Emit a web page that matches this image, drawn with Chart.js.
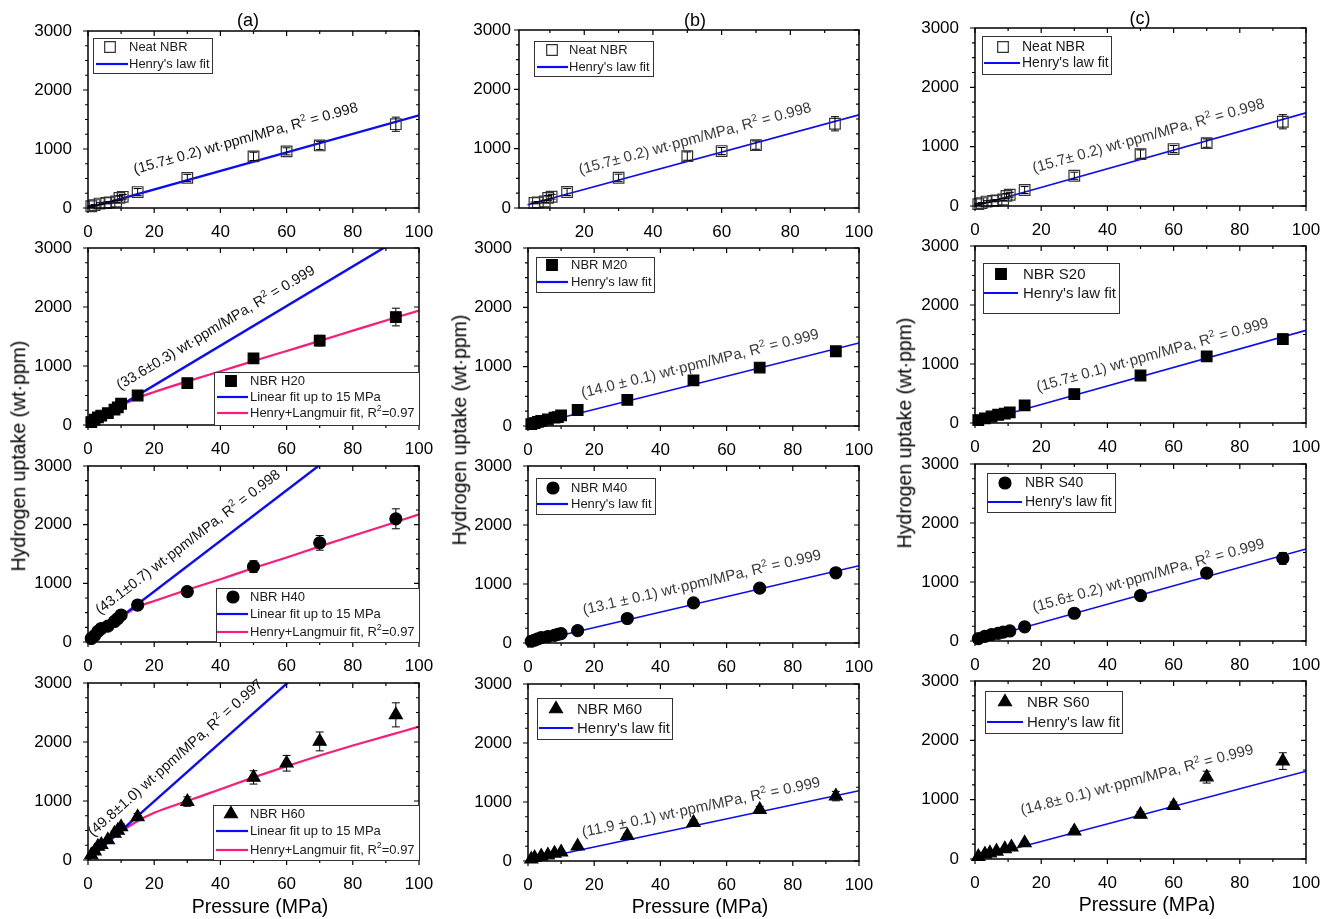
<!DOCTYPE html>
<html>
<head>
<meta charset="utf-8">
<script src="https://cdn.jsdelivr.net/npm/chart.js@4.4.1/dist/chart.umd.min.js"></script>
<style>
  html, body { margin: 0; padding: 0; background: #fff; }
  #fig { position: relative; width: 1332px; height: 919px; overflow: hidden;
         font-family: 'Liberation Sans', Arial, Helvetica, sans-serif; color: #000; }
  #fig canvas { position: absolute; }
  .lbl { position: absolute; white-space: nowrap; line-height: 1; transform: translate(-50%, -50%); }
  .ylab { transform: translate(-50%, -50%) rotate(-90deg); }
</style>
</head>
<body>
<div id="fig"></div>
<script>
// ---------------- measured hydrogen uptake (wt·ppm) vs pressure (MPa) ----------------
const neatP   = [1, 2, 3.5, 5.5, 6.5, 8.5, 9.5, 10.5, 15, 30, 50, 60, 70, 93];
const neatH   = [30, 50, 75, 85, 95, 110, 170, 190, 270, 510, 875, 960, 1060, 1420];
const neatErr = [10, 10, 15, 15, 15, 20, 40, 40, 60, 60, 70, 60, 70, 120];

const h20P   = [1, 2, 3, 4, 6, 8, 9, 10, 15, 30, 50, 70, 93];
const h20H   = [50, 90, 130, 160, 200, 260, 300, 360, 500, 710, 1130, 1430, 1830];
const h20Err = [15, 15, 20, 20, 25, 30, 30, 35, 45, 60, 70, 90, 150];

const h40P   = [1, 2, 3, 4, 6, 8, 9, 10, 15, 30, 50, 70, 93];
const h40H   = [60, 110, 180, 230, 270, 350, 400, 460, 630, 860, 1285, 1690, 2100];
const h40Err = [15, 20, 20, 25, 30, 35, 40, 45, 55, 60, 100, 125, 170];

const h60P   = [1, 2, 3, 4, 6, 8, 9, 10, 15, 30, 50, 60, 70, 93];
const h60H   = [85, 150, 230, 260, 340, 450, 500, 560, 730, 990, 1400, 1640, 2010, 2460];
const h60Err = [15, 20, 25, 30, 35, 40, 45, 50, 60, 80, 113, 133, 160, 204];

const m20P   = [1, 2, 3, 4, 6, 8, 9, 10, 15, 30, 50, 70, 93];
const m20H   = [30, 50, 70, 85, 110, 140, 150, 180, 270, 440, 770, 985, 1260];
const m20Err = [10, 10, 10, 15, 15, 15, 20, 20, 30, 40, 50, 60, 80];

const m40P   = [1, 2, 3, 4, 6, 8, 9, 10, 15, 30, 50, 70, 93];
const m40H   = [30, 50, 70, 90, 110, 130, 145, 160, 210, 415, 680, 930, 1190];
const m40Err = [10, 10, 10, 15, 15, 15, 20, 20, 25, 35, 45, 55, 70];

const m60P   = [1, 2, 4, 6, 8, 10, 15, 30, 50, 70, 93];
const m60H   = [30, 55, 80, 100, 130, 150, 250, 430, 650, 870, 1100];
const m60Err = [10, 10, 10, 15, 15, 15, 25, 35, 45, 55, 80];

const s20P   = [1, 3, 5, 7, 9, 10.5, 15, 30, 50, 70, 93];
const s20H   = [50, 80, 110, 140, 160, 180, 300, 490, 805, 1130, 1420];
const s20Err = [10, 10, 15, 15, 15, 20, 30, 40, 50, 60, 90];

const s40P   = [1, 3, 5, 7, 8.5, 10.5, 15, 30, 50, 70, 93];
const s40H   = [40, 80, 110, 130, 150, 170, 240, 470, 770, 1150, 1400];
const s40Err = [10, 10, 15, 15, 15, 20, 30, 40, 50, 60, 100];

const s60P   = [1, 3, 4.5, 6.5, 9, 11, 15, 30, 50, 60, 70, 93];
const s60H   = [40, 80, 100, 130, 170, 200, 270, 470, 750, 900, 1380, 1650];
const s60Err = [10, 10, 15, 15, 20, 20, 30, 40, 50, 60, 100, 140];

// ---------------- Henry+Langmuir fitted curves ----------------
const hlP   = [0, 2, 5, 10, 15, 20, 30, 40, 50, 60, 70, 80, 90, 100];
const hlH20 = [0, 75, 175, 330, 460, 560, 740, 910, 1085, 1255, 1425, 1600, 1770, 1940];
const hlH40 = [0, 95, 225, 420, 600, 700, 890, 1070, 1260, 1440, 1630, 1810, 1990, 2175];
const hlH60 = [0, 110, 270, 480, 660, 800, 1000, 1200, 1400, 1590, 1770, 1940, 2100, 2260];
const r2HL  = '0.97';

// ---------------- Henry's law slopes (wt·ppm/MPa), errors, R² ----------------
const kNeat = 15.7, eNeat = 0.2, r2Neat = '0.998';
const kH20 = 33.6, eH20 = 0.3, r2H20 = '0.999';
const kH40 = 43.1, eH40 = 0.7, r2H40 = '0.998';
const kH60 = 49.8, eH60 = 1.0, r2H60 = '0.997';
const kM20 = 14.0, eM20 = 0.1, r2M20 = '0.999';
const kM40 = 13.1, eM40 = 0.1, r2M40 = '0.999';
const kM60 = 11.9, eM60 = 0.1, r2M60 = '0.999';
const kS20 = 15.7, eS20 = 0.1, r2S20 = '0.999';
const kS40 = 15.6, eS40 = 0.2, r2S40 = '0.999';
const kS60 = 14.8, eS60 = 0.1, r2S60 = '0.999';

// ---------------- axis ticks ----------------
const xTickValues = [0, 20, 40, 60, 80, 100];
const xMinorValues = [10, 30, 50, 70, 90];
const yTickValues = [0, 1000, 2000, 3000];
const yMinorValues = [250, 500, 750, 1250, 1500, 1750, 2250, 2500, 2750];

const FONT = "'Liberation Sans', Arial, Helvetica, sans-serif";
const BLUE = '#0a0aff';
const PINK = '#ff1a78';

// slope label formats
const noteA = (k, e, r2) => `(${k.toFixed(1)}\u00b1 ${e.toFixed(1)}) wt\u00b7ppm/MPa, R^2 = ${r2}`;
const noteB = (k, e, r2) => `(${k.toFixed(1)}\u00b1${e.toFixed(1)}) wt\u00b7ppm/MPa, R^2 = ${r2}`;
const noteC = (k, e, r2) => `(${k.toFixed(1)} \u00b1 ${e.toFixed(1)}) wt\u00b7ppm/MPa, R^2 = ${r2}`;

// marker styles
const openSquare = { style: 'rect', r: 7.5, fill: 'rgba(0,0,0,0)', stroke: '#333' };
const square = { style: 'rect', r: 7.5, fill: '#000', stroke: '#000' };
const circle = { style: 'circle', r: 6, fill: '#000', stroke: '#000' };
const triangle = { style: 'triangle', r: 7.5, fill: '#000', stroke: '#000' };

function henry(label, k, x0, width) {
  return { label, P: [x0, 100], H: [k * x0, k * 100], color: BLUE, width, smooth: false };
}
function langmuir(H) {
  return { label: `Henry+Langmuir fit, R^2=${r2HL}`, P: hlP, H, color: PINK, width: 2.2, smooth: true };
}
const HL = "Henry's law fit";
const LIN = 'Linear fit up to 15 MPa';

const panelDefs = [
  // column (a)
  { rect: [88, 31, 331, 177], xMin: 0,
    series: { label: 'Neat NBR', P: neatP, H: neatH, E: neatErr, ...openSquare },
    fits: [henry(HL, kNeat, 0, 2.4)],
    note: { x: 14.2, y: 576, k: kNeat, text: noteA(kNeat, eNeat, r2Neat), size: 14.5, color: '#111' },
    legend: { box: [5, 7, 119, 35], rows: [9, 26], sym: 17, line: [3, 35], text: 36, size: 13 } },
  { rect: [88, 248, 331, 177], xMin: 0,
    series: { label: 'NBR H20', P: h20P, H: h20H, E: h20Err, ...square },
    fits: [henry(LIN, kH20, 0, 2.4), langmuir(hlH20)],
    note: { x: 9.7, y: 593, k: kH20, text: noteB(kH20, eH20, r2H20), size: 14.5, color: '#111' },
    legend: { box: [126, 124, 205, 53], rows: [9, 25, 41], sym: 17, line: [3, 34], text: 36, size: 13 } },
  { rect: [88, 466, 331, 176], xMin: 0,
    series: { label: 'NBR H40', P: h40P, H: h40H, E: h40Err, ...circle },
    fits: [henry(LIN, kH40, 0, 2.4), langmuir(hlH40)],
    note: { x: 3.6, y: 463, k: kH40, text: noteB(kH40, eH40, r2H40), size: 14.5, color: '#111' },
    legend: { box: [128, 122, 203, 54], rows: [9, 26, 44], sym: 17, line: [1, 32], text: 34, size: 13 } },
  { rect: [88, 683, 331, 177], xMin: 0,
    series: { label: 'NBR H60', P: h60P, H: h60H, E: h60Err, ...triangle },
    fits: [henry(LIN, kH60, 0, 2.4), langmuir(hlH60)],
    note: { x: 1.5, y: 390, k: kH60, text: noteB(kH60, eH60, r2H60), size: 14.5, color: '#111' },
    legend: { box: [125, 122, 206, 55], rows: [9, 26, 45], sym: 18, line: [3, 35], text: 37, size: 13 } },
  // column (b)
  { rect: [519, 30, 340, 178], xMin: 1, pFrom: 5, yPad: 8,
    series: { label: 'Neat NBR', P: neatP, H: neatH, E: neatErr, ...openSquare },
    fits: [henry(HL, kNeat, 3.5, 1.6)],
    note: { x: 18.8, y: 564, k: kNeat, text: noteA(kNeat, eNeat, r2Neat), size: 15, color: '#3a3a3a' },
    legend: { box: [15, 11, 119, 35], rows: [9, 26], sym: 18, line: [3, 34], text: 35, size: 13 } },
  { rect: [528, 248, 331, 178], xMin: 0,
    series: { label: 'NBR M20', P: m20P, H: m20H, E: m20Err, ...square },
    fits: [henry(HL, kM20, 0, 1.6)],
    note: { x: 16.5, y: 475, k: kM20, text: noteC(kM20, eM20, r2M20), size: 15, color: '#3a3a3a' },
    legend: { box: [8, 9, 118, 35], rows: [8, 25], sym: 16, line: [1, 32], text: 35, size: 13 } },
  { rect: [528, 466, 331, 177], xMin: 0,
    series: { label: 'NBR M40', P: m40P, H: m40H, E: m40Err, ...circle },
    fits: [henry(HL, kM40, 0, 1.6)],
    note: { x: 16.9, y: 480, k: kM40, text: noteC(kM40, eM40, r2M40), size: 15, color: '#3a3a3a' },
    legend: { box: [8, 12, 119, 36], rows: [10, 26], sym: 17, line: [1, 32], text: 35, size: 13 } },
  { rect: [528, 684, 331, 177], xMin: 0,
    series: { label: 'NBR M60', P: m60P, H: m60H, E: m60Err, ...triangle },
    fits: [henry(HL, kM60, 0, 1.6)],
    note: { x: 16.6, y: 407, k: kM60, text: noteC(kM60, eM60, r2M60), size: 15, color: '#3a3a3a' },
    legend: { box: [9, 14, 135, 41], rows: [11, 30], sym: 19, line: [2, 36], text: 40, size: 15 } },
  // column (c)
  { rect: [975, 28, 331, 178], xMin: 0,
    series: { label: 'Neat NBR', P: neatP, H: neatH, E: neatErr, ...openSquare },
    fits: [henry(HL, kNeat, 0, 1.6)],
    note: { x: 17.8, y: 559, k: kNeat, text: noteA(kNeat, eNeat, r2Neat), size: 15, color: '#3a3a3a' },
    legend: { box: [7, 8, 129, 38], rows: [11, 27], sym: 21, line: [2, 38], text: 40, size: 14 } },
  { rect: [975, 246, 331, 177], xMin: 0,
    series: { label: 'NBR S20', P: s20P, H: s20H, E: s20Err, ...square },
    fits: [henry(HL, kS20, 0, 1.6)],
    note: { x: 19, y: 530, k: kS20, text: noteA(kS20, eS20, r2S20), size: 15, color: '#3a3a3a' },
    legend: { box: [8, 17, 136, 50], rows: [11, 30], sym: 18, line: [1, 35], text: 40, size: 15 } },
  { rect: [975, 464, 331, 177], xMin: 0,
    series: { label: 'NBR S40', P: s40P, H: s40H, E: s40Err, ...circle },
    fits: [henry(HL, kS40, 0, 1.6)],
    note: { x: 17.8, y: 491, k: kS40, text: noteA(kS40, eS40, r2S40), size: 15, color: '#3a3a3a' },
    legend: { box: [12, 9, 128, 39], rows: [10, 29], sym: 18, line: [1, 35], text: 38, size: 14 } },
  { rect: [975, 681, 331, 178], xMin: 0,
    series: { label: 'NBR S60', P: s60P, H: s60H, E: s60Err, ...triangle },
    fits: [henry(HL, kS60, 0, 1.6)],
    note: { x: 14.2, y: 740, k: kS60, text: noteA(kS60, eS60, r2S60), size: 15, color: '#3a3a3a' },
    legend: { box: [10, 10, 137, 42], rows: [11, 31], sym: 20, line: [2, 38], text: 42, size: 15 } },
];

// text with '^x' meaning a superscript character x
function drawRich(ctx, str, x, y, size) {
  const parts = [];
  for (let i = 0; i < str.length; i++) {
    if (str[i] === '^' && i + 1 < str.length) { parts.push({ t: str[i + 1], sup: true }); i++; }
    else if (parts.length && !parts[parts.length - 1].sup) parts[parts.length - 1].t += str[i];
    else parts.push({ t: str[i], sup: false });
  }
  let cx = x;
  parts.forEach(p => {
    ctx.font = (p.sup ? size * 0.68 : size) + 'px ' + FONT;
    ctx.fillText(p.t, cx, p.sup ? y - size * 0.4 : y);
    cx += ctx.measureText(p.t).width;
  });
}

const panelDecor = {
  id: 'panelDecor',
  afterDatasetsDraw(chart) {
    const def = chart.config.options.plugins.panelDecor.def;
    const ctx = chart.ctx;
    const xs = chart.scales.x, ys = chart.scales.y;
    const ca = chart.chartArea;
    ctx.save();

    // error bars
    chart.data.datasets.forEach(ds => {
      if (!ds.errors) return;
      ctx.strokeStyle = '#000';
      ctx.lineWidth = 1;
      ds.data.forEach((pt, i) => {
        const e = ds.errors[i];
        const px = xs.getPixelForValue(pt.x);
        const y1 = ys.getPixelForValue(pt.y - e), y2 = ys.getPixelForValue(pt.y + e);
        ctx.beginPath();
        ctx.moveTo(px, y1); ctx.lineTo(px, y2);
        ctx.moveTo(px - 4, y1); ctx.lineTo(px + 4, y1);
        ctx.moveTo(px - 4, y2); ctx.lineTo(px + 4, y2);
        ctx.stroke();
      });
    });

    // slope label along the Henry's law line
    const n = def.note;
    const ang = Math.atan2(ys.getPixelForValue(n.k * 100) - ys.getPixelForValue(0),
                           xs.getPixelForValue(100) - xs.getPixelForValue(0));
    ctx.save();
    ctx.translate(xs.getPixelForValue(n.x), ys.getPixelForValue(n.y));
    ctx.rotate(ang);
    ctx.fillStyle = n.color;
    ctx.textBaseline = 'alphabetic';
    ctx.textAlign = 'left';
    drawRich(ctx, n.text, 0, 0, n.size);
    ctx.restore();

    // frame
    ctx.strokeStyle = '#000';
    ctx.lineWidth = 1.5;
    ctx.strokeRect(ca.left, ca.top, ca.right - ca.left, ca.bottom - ca.top);

    // tick marks: outward on left/bottom, inward on top/right
    ctx.lineWidth = 1.2;
    ctx.beginPath();
    const xt = (vals, len) => vals.forEach(v => {
      if (v < xs.min || v > xs.max) return;
      const px = xs.getPixelForValue(v);
      ctx.moveTo(px, ca.bottom); ctx.lineTo(px, ca.bottom + len);
      ctx.moveTo(px, ca.top); ctx.lineTo(px, ca.top + len);
    });
    const yt = (vals, len) => vals.forEach(v => {
      const py = ys.getPixelForValue(v);
      ctx.moveTo(ca.left, py); ctx.lineTo(ca.left - len, py);
      ctx.moveTo(ca.right, py); ctx.lineTo(ca.right - len, py);
    });
    xt(xTickValues, 5); xt(xMinorValues, 3);
    yt(yTickValues, 5); yt(yMinorValues, 3);
    ctx.stroke();

    // legend
    const lg = def.legend;
    const bx = ca.left + lg.box[0], by = ca.top + lg.box[1];
    ctx.fillStyle = '#fff';
    ctx.fillRect(bx, by, lg.box[2], lg.box[3]);
    ctx.strokeStyle = '#333';
    ctx.lineWidth = 1;
    ctx.strokeRect(bx + 0.5, by + 0.5, lg.box[2], lg.box[3]);
    const sets = chart.data.datasets;
    const items = [sets[sets.length - 1], ...sets.slice(0, sets.length - 1)];
    items.forEach((ds, i) => {
      const y = by + lg.rows[i];
      if (ds.errors) {
        ctx.fillStyle = ds.backgroundColor;
        ctx.strokeStyle = ds.borderColor;
        ctx.lineWidth = ds.borderWidth;
        Chart.helpers.drawPoint(ctx, { pointStyle: ds.pointStyle, radius: ds.pointRadius, borderWidth: ds.borderWidth, rotation: 0 }, bx + lg.sym, y);
      } else {
        ctx.strokeStyle = ds.borderColor;
        ctx.lineWidth = 2.2;
        ctx.beginPath();
        ctx.moveTo(bx + lg.line[0], y); ctx.lineTo(bx + lg.line[1], y);
        ctx.stroke();
      }
      ctx.fillStyle = '#1a1a1a';
      ctx.textBaseline = 'middle';
      ctx.textAlign = 'left';
      drawRich(ctx, ds.label, bx + lg.text, y + 0.5, lg.size);
    });
    ctx.restore();
  }
};

const fig = document.getElementById('fig');
const PAD_L = 75, PAD_T = 14, PAD_R = 22, PAD_B = 40;

panelDefs.forEach(def => {
  const [L, T, W, H] = def.rect;
  const cv = document.createElement('canvas');
  cv.width = W + PAD_L + PAD_R;
  cv.height = H + PAD_T + PAD_B;
  cv.style.left = (L - PAD_L) + 'px';
  cv.style.top = (T - PAD_T) + 'px';
  fig.appendChild(cv);

  const s = def.series;
  const keep = s.P.map((p, i) => i).filter(i => def.pFrom === undefined || s.P[i] >= def.pFrom);
  const datasets = def.fits.map(f => ({
    type: 'line',
    label: f.label,
    data: f.P.map((p, i) => ({ x: p, y: f.H[i] })),
    borderColor: f.color,
    borderWidth: f.width,
    pointRadius: 0,
    showLine: true,
    fill: false,
    tension: f.smooth ? 0.4 : 0,
    cubicInterpolationMode: f.smooth ? 'monotone' : 'default',
    order: 2
  }));
  datasets.push({
    type: 'scatter',
    label: s.label,
    data: keep.map(i => ({ x: s.P[i], y: s.H[i] })),
    errors: keep.map(i => s.E[i]),
    pointStyle: s.style,
    pointRadius: s.r,
    pointHoverRadius: s.r,
    backgroundColor: s.fill,
    borderColor: s.stroke,
    borderWidth: 1.2,
    clip: false,
    order: 1
  });

  new Chart(cv, {
    type: 'scatter',
    data: { datasets },
    options: {
      responsive: false,
      animation: false,
      devicePixelRatio: 1,
      layout: { padding: { left: 0, top: PAD_T, right: PAD_R, bottom: 0 } },
      plugins: { legend: { display: false }, tooltip: { enabled: false }, panelDecor: { def } },
      scales: {
        x: {
          type: 'linear', min: def.xMin, max: 100,
          grid: { display: false, drawTicks: false },
          border: { display: false },
          ticks: { font: { size: 17, family: FONT }, color: '#000', padding: 14, autoSkip: false, maxRotation: 0,
                   callback: v => String(v) },
          afterBuildTicks: sc => { sc.ticks = xTickValues.filter(v => v >= sc.min && v <= sc.max).map(v => ({ value: v })); },
          afterFit: sc => { sc.height = PAD_B; sc.paddingLeft = 0; sc.paddingRight = 0; }
        },
        y: {
          type: 'linear', min: 0, max: 3000,
          grid: { display: false, drawTicks: false },
          border: { display: false },
          ticks: { font: { size: 17, family: FONT }, color: '#000', padding: def.yPad ?? 16, autoSkip: false,
                   callback: v => String(v) },
          afterBuildTicks: sc => { sc.ticks = yTickValues.map(v => ({ value: v })); },
          afterFit: sc => { sc.width = PAD_L; sc.paddingTop = 0; sc.paddingBottom = 0; }
        }
      }
    },
    plugins: [panelDecor]
  });
});

// shared titles
function addLabel(text, x, y, size, cls) {
  const d = document.createElement('div');
  d.className = 'lbl' + (cls ? ' ' + cls : '');
  d.textContent = text;
  d.style.left = x + 'px';
  d.style.top = y + 'px';
  d.style.fontSize = size + 'px';
  fig.appendChild(d);
}
addLabel('(a)', 248, 20, 18);
addLabel('(b)', 695, 20, 18);
addLabel('(c)', 1140, 18, 18);
addLabel('Hydrogen uptake (wt\u00b7ppm)', 19, 456, 19.5, 'ylab');
addLabel('Hydrogen uptake (wt\u00b7ppm)', 460, 430, 19.5, 'ylab');
addLabel('Hydrogen uptake (wt\u00b7ppm)', 905, 433, 19.5, 'ylab');
addLabel('Pressure (MPa)', 260, 907, 19.5);
addLabel('Pressure (MPa)', 700, 907, 19.5);
addLabel('Pressure (MPa)', 1147, 905, 19.5);
</script>
</body>
</html>
